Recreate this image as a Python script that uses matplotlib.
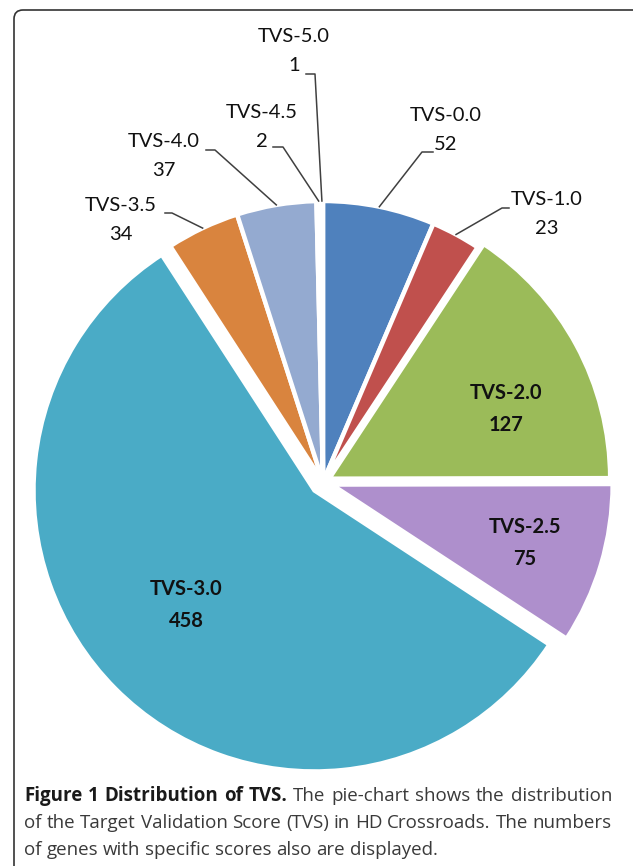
import numpy as np
import matplotlib.pyplot as plt
from matplotlib.patches import FancyBboxPatch

W, H = 633, 866

labels = ['TVS-0.0', 'TVS-1.0', 'TVS-2.0', 'TVS-2.5', 'TVS-3.0',
          'TVS-3.5', 'TVS-4.0', 'TVS-4.5', 'TVS-5.0']
counts = [52, 23, 127, 75, 458, 34, 37, 2, 1]
colors = ['#4f81bd', '#c0504d', '#9bbb59', '#ae8fcc', '#4aabc6',
          '#d9843e', '#94aad0', '#2f9a3a', '#e8463c']
explode_px = [0, 0, 7, 9, 12, 0, 0, 0, 0]

caption_bold = 'Figure 1 Distribution of TVS.'
caption_lines = ['The pie-chart shows the distribution',
                 'of the Target Validation Score (TVS) in HD Crossroads. The numbers',
                 'of genes with specific scores also are displayed.']

# layout, in image pixels (y measured from the top)
inside_pos = {'TVS-2.0': (506, 409), 'TVS-2.5': (525, 543), 'TVS-3.0': (186, 605)}
outside_pos = {  # label centre, elbow of leader, end of leader
    'TVS-5.0': ((294, 51), (315, 74), (306, 74)),
    'TVS-4.5': ((262, 127), (283, 147), (273, 147)),
    'TVS-4.0': ((164, 156), (215, 150), (206, 150)),
    'TVS-3.5': ((121, 220), (172, 213), (165, 213)),
    'TVS-0.0': ((446, 130), (422, 152), (433, 152)),
    'TVS-1.0': ((547, 214), (502, 208), (509, 208)),
}
center_px = (323, 482)
radius = 281


def px(x, y):
    return x, H - y


plt.rcParams['font.family'] = ['Lato', 'DejaVu Sans']

fig = plt.figure(figsize=(W / 100, H / 100), dpi=100)
ax = fig.add_axes([0, 0, 1, 1])

# explode is in data units here (pixels)
wedges, _ = ax.pie(counts, colors=colors, startangle=90, counterclock=False,
                   explode=explode_px, center=px(*center_px), radius=radius,
                   wedgeprops=dict(edgecolor='white', linewidth=3.2))

for w, lab, n in zip(wedges, labels, counts):
    if lab in inside_pos:
        x, y = px(*inside_pos[lab])
        ax.text(x, y, f'{lab}\n{n}', ha='center', va='center', fontsize=14.5,
                fontweight='bold', color='#111111', linespacing=1.8)
    else:
        (tx, ty), elbow, end = outside_pos[lab]
        mid = np.deg2rad((w.theta1 + w.theta2) / 2)
        sx = w.center[0] + w.r * np.cos(mid)
        sy = w.center[1] + w.r * np.sin(mid)
        ex, ey = px(*elbow)
        fx, fy = px(*end)
        ax.plot([sx, ex, fx], [sy, ey, fy], color='#404040', lw=1.1)
        x, y = px(tx, ty)
        ax.text(x, y, f'{lab}\n{n}', ha='center', va='center', fontsize=14.5,
                color='#111111', linespacing=1.8)

# rounded frame, cut off at right and bottom
frame = FancyBboxPatch((14, -60), 700, H - 10 + 60,
                       boxstyle='round,pad=0,rounding_size=9',
                       facecolor='none', edgecolor='#333333', lw=1.2,
                       clip_on=False)
ax.add_patch(frame)

ax.set_xlim(0, W)
ax.set_ylim(0, H)
ax.set_aspect('equal')
ax.axis('off')

# caption, justified like the journal layout
cap_font = ['Open Sans', 'DejaVu Sans']
renderer = fig.canvas.get_renderer()


def put_line(words, y, x0, x1=None):
    texts = []
    for word, bold in words:
        texts.append(ax.text(x0, H - y, word, fontsize=13.5, family=cap_font,
                             fontweight='bold' if bold else 'normal',
                             color='#1a1a1a' if bold else '#3a3a3a',
                             va='baseline', ha='left'))
    widths = [t.get_window_extent(renderer).width for t in texts]
    space = ax.text(0, 0, 'a a', fontsize=13.5, family=cap_font)
    sp = space.get_window_extent(renderer).width - \
        ax.text(0, 0, 'aa', fontsize=13.5, family=cap_font).get_window_extent(renderer).width
    for t in ax.texts[-2:]:
        t.remove()
    gap = sp if x1 is None else (x1 - x0 - sum(widths)) / (len(words) - 1)
    x = x0
    for t, wd in zip(texts, widths):
        t.set_x(x)
        x += wd + gap


line1 = [(w, True) for w in caption_bold.split()] + \
        [(w, False) for w in caption_lines[0].split()]
put_line(line1, 801, 24, 612)
put_line([(w, False) for w in caption_lines[1].split()], 828, 24, 612)
put_line([(w, False) for w in caption_lines[2].split()], 855, 24)

fig.savefig('out.png', dpi=100)
